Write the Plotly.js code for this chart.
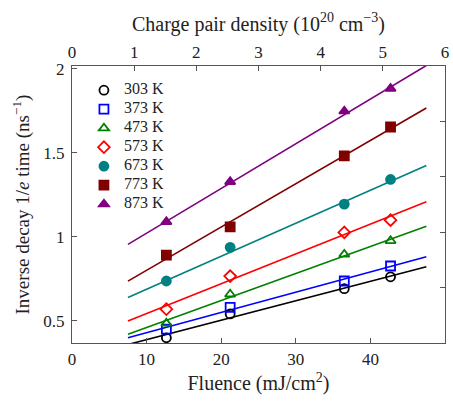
<!DOCTYPE html>
<html>
<head>
<meta charset="utf-8">
<script src="https://cdn.plot.ly/plotly-3.0.1.min.js"></script>
<style>html,body{margin:0;padding:0;background:#fff;}</style>
</head>
<body>
<div id="chart" style="width:453px;height:402px;"></div>
<script>
// Fluence values of the measured points (mJ/cm^2)
const fluence = [12.65, 21.2, 36.5, 42.7];
// Temperature labels
const temps = ['303 K', '373 K', '473 K', '573 K', '673 K', '773 K', '873 K'];
// Inverse decay 1/e time (ns^-1), one array per temperature
const y303 = [0.40, 0.542, 0.692, 0.763];
const y373 = [0.451, 0.581, 0.738, 0.827];
const y473 = [0.486, 0.659, 0.896, 0.977];
const y573 = [0.57, 0.767, 1.027, 1.10];
const y673 = [0.738, 0.938, 1.195, 1.342];
const y773 = [0.892, 1.06, 1.482, 1.654];
const y873 = [1.09, 1.328, 1.748, 1.883];
// Linear-fit line endpoints
const fitX = [7.5, 47.5];
const fit303 = [0.36, 0.823];
const fit373 = [0.40, 0.882];
const fit473 = [0.421, 1.064];
const fit573 = [0.50, 1.209];
const fit673 = [0.64, 1.425];
const fit773 = [0.737, 1.767];
const fit873 = [0.956, 2.02];
// Axis ticks
const xTicks = [0, 10, 20, 30, 40, 50];
const topTicks = [0, 1, 2, 3, 4, 5, 6];
const yTicks = [0.5, 1, 1.5, 2];
const yTickText = ['0.5', '1', '1.5', '2'];

const series = [
  {name: temps[0], y: y303, fit: fit303, color: '#000000', symbol: 'circle-open'},
  {name: temps[1], y: y373, fit: fit373, color: '#0000ff', symbol: 'square-open'},
  {name: temps[2], y: y473, fit: fit473, color: '#008000', symbol: 'triangle-up-open'},
  {name: temps[3], y: y573, fit: fit573, color: '#ff0000', symbol: 'diamond-open'},
  {name: temps[4], y: y673, fit: fit673, color: '#008080', symbol: 'circle'},
  {name: temps[5], y: y773, fit: fit773, color: '#800000', symbol: 'square'},
  {name: temps[6], y: y873, fit: fit873, color: '#800080', symbol: 'triangle-up'}
];

const traces = [];
series.forEach(s => {
  traces.push({x: fitX, y: s.fit, mode: 'lines', line: {color: s.color, width: 1.6},
    showlegend: false, hoverinfo: 'skip'});
});
series.forEach(s => {
  traces.push({x: fluence, y: s.y, mode: 'markers',
    name: '<span style="font-size:16px">' + s.name + '</span>',
    marker: {symbol: s.symbol, size: 9, color: s.color, line: {color: s.color, width: 1.8}}});
});
traces.push({x: [], y: [], xaxis: 'x2', yaxis: 'y2', showlegend: false, mode: 'markers'});

const fam = 'Liberation Serif, Times New Roman, serif';
const axCol = '#555555';
const txtCol = '#222222';

const layout = {
  width: 453, height: 402,
  margin: {l: 72, r: 8, t: 66, b: 59, pad: 0},
  paper_bgcolor: '#ffffff', plot_bgcolor: '#ffffff',
  font: {family: fam, size: 16, color: txtCol},
  showlegend: true,
  legend: {x: 0.032, y: 0.965, xanchor: 'left', yanchor: 'top', bgcolor: 'rgba(255,255,255,0)',
    font: {family: fam, size: 11, color: txtCol}, itemwidth: 30, tracegroupgap: 0},
  xaxis: {range: [0, 50], tickvals: xTicks, ticks: 'inside', ticklen: 5, tickcolor: axCol,
    showline: true, linecolor: axCol, linewidth: 1.2, showgrid: false, zeroline: false,
    tickfont: {family: fam, size: 17, color: txtCol}, ticklabelstandoff: 0,
    title: {text: 'Fluence (mJ/cm<sup>2</sup>)', font: {family: fam, size: 20, color: txtCol}, standoff: 8}},
  xaxis2: {range: [0, 6], tickvals: topTicks, overlaying: 'x', side: 'top', anchor: 'y2',
    ticks: 'inside', ticklen: 5, tickcolor: axCol, showline: true, linecolor: axCol, linewidth: 1.2,
    showgrid: false, zeroline: false, tickfont: {family: fam, size: 17, color: txtCol}, ticklabelstandoff: 0,
    title: {text: 'Charge pair density (10<sup>20</sup> cm<sup>\u22123</sup>)', font: {family: fam, size: 20, color: txtCol}, standoff: 6}},
  yaxis: {range: [0.369, 2.017], tickvals: yTicks, ticktext: yTickText, ticks: 'inside', ticklen: 5,
    tickcolor: axCol, showline: true, linecolor: axCol, linewidth: 1.2, showgrid: false, zeroline: false,
    tickfont: {family: fam, size: 17, color: txtCol}, ticklabelstandoff: 3,
    title: {text: 'Inverse decay 1/<i>e</i> time (ns<sup>\u22121</sup>)', font: {family: fam, size: 19, color: txtCol}, standoff: 8}},
  yaxis2: {range: [0, 5], tickvals: [1, 2, 3, 4], showticklabels: false, overlaying: 'y', side: 'right', anchor: 'x2',
    ticks: 'inside', ticklen: 5, tickcolor: axCol, showline: true, linecolor: axCol, linewidth: 1.2,
    showgrid: false, zeroline: false}
};

Plotly.newPlot('chart', traces, layout, {displayModeBar: false, staticPlot: true});
</script>
</body>
</html>
